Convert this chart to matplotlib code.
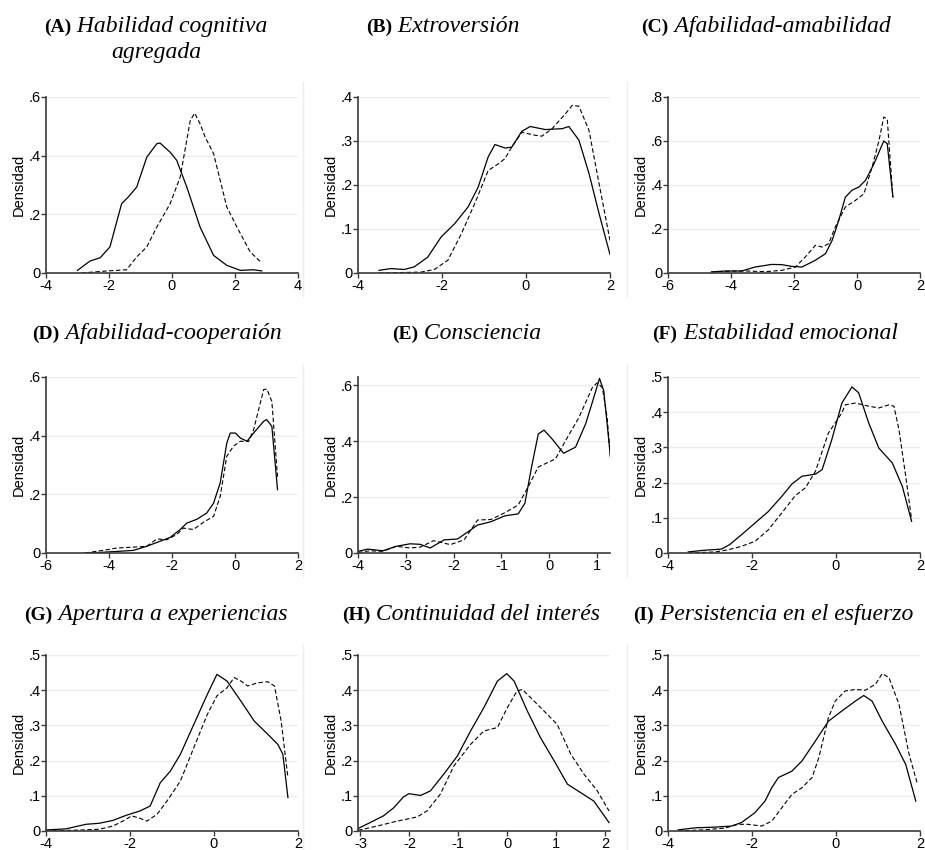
import matplotlib
matplotlib.use("Agg")
import matplotlib.pyplot as plt
import numpy as np

# ---- data (x = score, y = density) ----
# (A) Habilidad cognitiva agregada
a_sol_x = [-3.0, -2.6, -2.28, -1.97, -1.6, -1.38, -1.12, -0.8, -0.48, -0.38, -0.06, 0.15, 0.47, 0.89, 1.32, 1.74, 2.17, 2.59, 2.85]
a_sol_y = [0.009, 0.041, 0.052, 0.089, 0.236, 0.26, 0.293, 0.395, 0.441, 0.443, 0.412, 0.384, 0.293, 0.157, 0.06, 0.026, 0.009, 0.011, 0.007]
a_das_x = [-2.87, -2.07, -1.44, -1.12, -0.8, -0.48, -0.06, 0.26, 0.58, 0.72, 0.89, 1.05, 1.32, 1.74, 2.06, 2.48, 2.85]
a_das_y = [0.0, 0.007, 0.011, 0.055, 0.089, 0.157, 0.236, 0.327, 0.52, 0.545, 0.509, 0.464, 0.407, 0.225, 0.157, 0.072, 0.034]

# (B) Extroversión
b_sol_x = [-3.5, -3.22, -2.9, -2.66, -2.34, -2.02, -1.7, -1.38, -1.14, -0.9, -0.74, -0.5, -0.34, -0.1, 0.1, 0.46, 0.86, 1.02, 1.26, 1.5, 1.74, 2.0]
b_sol_y = [0.006, 0.01, 0.008, 0.014, 0.036, 0.082, 0.112, 0.15, 0.195, 0.264, 0.292, 0.284, 0.286, 0.322, 0.333, 0.326, 0.328, 0.333, 0.302, 0.226, 0.135, 0.042]
b_das_x = [-3.5, -2.5, -2.18, -1.86, -1.54, -1.22, -0.9, -0.66, -0.5, -0.34, -0.1, 0.22, 0.38, 0.62, 0.94, 1.1, 1.26, 1.5, 1.74, 2.0]
b_das_y = [0.0, 0.002, 0.008, 0.029, 0.089, 0.158, 0.233, 0.248, 0.26, 0.286, 0.32, 0.313, 0.311, 0.328, 0.362, 0.381, 0.379, 0.324, 0.203, 0.074]

# (C) Afabilidad-amabilidad
c_sol_x = [-4.62, -4.19, -3.66, -3.24, -2.71, -2.39, -2.07, -1.75, -1.32, -1.0, -0.79, -0.58, -0.37, -0.16, 0.06, 0.27, 0.54, 0.85, 0.96, 1.14]
c_sol_y = [0.005, 0.009, 0.009, 0.027, 0.039, 0.038, 0.03, 0.027, 0.058, 0.088, 0.148, 0.239, 0.345, 0.376, 0.391, 0.421, 0.497, 0.6, 0.588, 0.345]
c_das_x = [-4.62, -3.98, -3.45, -2.92, -2.39, -1.96, -1.64, -1.32, -1.11, -0.9, -0.69, -0.37, -0.05, 0.22, 0.48, 0.7, 0.85, 0.96, 1.14]
c_das_y = [0.004, 0.009, 0.009, 0.006, 0.012, 0.027, 0.073, 0.126, 0.118, 0.133, 0.209, 0.3, 0.33, 0.36, 0.482, 0.603, 0.709, 0.7, 0.345]

# (D) Afabilidad-cooperaión
d_sol_x = [-4.76, -4.28, -3.65, -3.22, -2.8, -2.38, -2.06, -1.74, -1.53, -1.21, -0.9, -0.68, -0.47, -0.26, -0.15, 0.01, 0.17, 0.38, 0.59, 0.91, 1.0, 1.17, 1.35]
d_sol_y = [0.0, 0.002, 0.006, 0.009, 0.023, 0.04, 0.053, 0.08, 0.102, 0.115, 0.136, 0.17, 0.239, 0.375, 0.409, 0.409, 0.392, 0.381, 0.409, 0.449, 0.455, 0.432, 0.216]
d_das_x = [-4.76, -4.07, -3.75, -3.22, -2.8, -2.48, -2.17, -1.85, -1.64, -1.32, -1.0, -0.68, -0.47, -0.26, -0.05, 0.17, 0.43, 0.59, 0.91, 1.01, 1.17, 1.35]
d_das_y = [0.0, 0.011, 0.017, 0.02, 0.023, 0.048, 0.045, 0.063, 0.085, 0.08, 0.105, 0.125, 0.193, 0.33, 0.364, 0.381, 0.38, 0.42, 0.557, 0.559, 0.517, 0.26]

# (E) Consciencia
e_sol_x = [-4.0, -3.8, -3.48, -3.2, -2.91, -2.7, -2.49, -2.2, -1.92, -1.64, -1.5, -1.22, -0.93, -0.65, -0.51, -0.37, -0.23, -0.11, 0.06, 0.3, 0.55, 0.76, 0.93, 1.05, 1.14, 1.28]
e_sol_y = [0.006, 0.014, 0.008, 0.024, 0.033, 0.031, 0.018, 0.047, 0.05, 0.083, 0.1, 0.112, 0.133, 0.14, 0.178, 0.308, 0.426, 0.44, 0.408, 0.357, 0.379, 0.462, 0.556, 0.625, 0.58, 0.343]
e_das_x = [-4.0, -3.76, -3.48, -3.2, -2.91, -2.7, -2.42, -2.07, -1.78, -1.5, -1.22, -0.93, -0.65, -0.44, -0.23, -0.08, 0.13, 0.34, 0.62, 0.9, 1.0, 1.11, 1.21, 1.28]
e_das_y = [0.002, 0.008, 0.006, 0.024, 0.018, 0.021, 0.044, 0.03, 0.047, 0.118, 0.12, 0.144, 0.172, 0.237, 0.308, 0.32, 0.337, 0.402, 0.485, 0.592, 0.609, 0.592, 0.485, 0.343]

# (F) Estabilidad emocional
f_sol_x = [-3.52, -3.12, -2.73, -2.53, -2.25, -1.93, -1.61, -1.29, -1.05, -0.81, -0.49, -0.33, -0.1, 0.14, 0.38, 0.54, 0.78, 1.02, 1.34, 1.58, 1.8]
f_sol_y = [0.003, 0.008, 0.011, 0.024, 0.052, 0.085, 0.118, 0.161, 0.196, 0.218, 0.224, 0.237, 0.322, 0.426, 0.472, 0.455, 0.369, 0.298, 0.256, 0.189, 0.09]
f_das_x = [-3.52, -2.88, -2.57, -2.25, -1.93, -1.61, -1.29, -0.97, -0.73, -0.49, -0.18, 0.14, 0.22, 0.46, 0.78, 1.02, 1.26, 1.38, 1.5, 1.66, 1.8]
f_das_y = [0.0, 0.003, 0.009, 0.019, 0.033, 0.066, 0.114, 0.163, 0.185, 0.232, 0.341, 0.398, 0.421, 0.426, 0.417, 0.412, 0.421, 0.417, 0.35, 0.218, 0.095]

# (G) Apertura a experiencias
g_sol_x = [-4.0, -3.53, -3.05, -2.73, -2.41, -2.08, -1.76, -1.52, -1.28, -1.04, -0.8, -0.48, -0.16, 0.07, 0.31, 0.64, 0.96, 1.28, 1.52, 1.64, 1.76]
g_sol_y = [0.003, 0.006, 0.019, 0.022, 0.03, 0.045, 0.057, 0.071, 0.137, 0.17, 0.218, 0.303, 0.388, 0.445, 0.426, 0.369, 0.312, 0.275, 0.246, 0.218, 0.095]
g_das_x = [-4.0, -3.13, -2.73, -2.41, -2.17, -1.96, -1.76, -1.6, -1.36, -1.12, -0.8, -0.48, -0.16, 0.07, 0.31, 0.48, 0.64, 0.8, 1.04, 1.28, 1.44, 1.6, 1.76]
g_das_y = [0.0, 0.003, 0.005, 0.014, 0.028, 0.043, 0.036, 0.028, 0.047, 0.085, 0.142, 0.237, 0.331, 0.384, 0.407, 0.436, 0.426, 0.412, 0.421, 0.424, 0.412, 0.312, 0.152]

# (H) Continuidad del interés
h_sol_x = [-3.05, -2.8, -2.53, -2.32, -2.12, -2.01, -1.77, -1.57, -1.3, -1.02, -0.75, -0.48, -0.2, -0.01, 0.14, 0.41, 0.68, 0.96, 1.23, 1.5, 1.77, 2.08]
h_sol_y = [0.007, 0.024, 0.043, 0.066, 0.097, 0.106, 0.101, 0.114, 0.161, 0.213, 0.284, 0.35, 0.426, 0.447, 0.426, 0.341, 0.265, 0.199, 0.133, 0.109, 0.085, 0.024]
h_das_x = [-3.05, -2.66, -2.25, -1.84, -1.64, -1.37, -1.09, -0.75, -0.48, -0.2, 0.0, 0.2, 0.31, 0.55, 0.75, 1.02, 1.3, 1.57, 1.84, 2.08]
h_das_y = [0.002, 0.014, 0.028, 0.04, 0.057, 0.104, 0.185, 0.246, 0.284, 0.294, 0.35, 0.398, 0.402, 0.369, 0.341, 0.303, 0.218, 0.161, 0.114, 0.057]

# (I) Persistencia en el esfuerzo
i_sol_x = [-3.76, -3.36, -2.88, -2.49, -2.25, -1.93, -1.69, -1.53, -1.37, -1.05, -0.81, -0.49, -0.18, 0.14, 0.46, 0.66, 0.86, 1.1, 1.42, 1.66, 1.9]
i_sol_y = [0.003, 0.009, 0.011, 0.014, 0.024, 0.052, 0.085, 0.123, 0.152, 0.17, 0.199, 0.256, 0.312, 0.341, 0.369, 0.385, 0.369, 0.312, 0.246, 0.189, 0.085]
i_das_x = [-3.76, -3.2, -2.65, -2.33, -2.09, -1.77, -1.53, -1.29, -1.05, -0.81, -0.57, -0.41, -0.18, -0.02, 0.22, 0.46, 0.7, 0.94, 1.1, 1.26, 1.5, 1.74, 1.94]
i_das_y = [0.0, 0.003, 0.008, 0.019, 0.019, 0.014, 0.028, 0.066, 0.104, 0.123, 0.152, 0.208, 0.322, 0.369, 0.398, 0.402, 0.4, 0.417, 0.447, 0.436, 0.36, 0.218, 0.133]

letters = ["A", "B", "C", "D", "E", "F", "G", "H", "I"]
names = ["Habilidad cognitiva\nagregada", "Extroversión", "Afabilidad-amabilidad",
         "Afabilidad-cooperaión", "Consciencia", "Estabilidad emocional",
         "Apertura a experiencias", "Continuidad del interés", "Persistencia en el esfuerzo"]
xlims = [(-4, 4), (-4, 2), (-6, 2), (-6, 2), (-4, 1.27), (-4, 2), (-4, 2), (-3.05, 2.1), (-4, 2)]
xticks = [[-4, -2, 0, 2, 4], [-4, -2, 0, 2], [-6, -4, -2, 0, 2], [-6, -4, -2, 0, 2],
          [-4, -3, -2, -1, 0, 1], [-4, -2, 0, 2], [-4, -2, 0, 2], [-3, -2, -1, 0, 1, 2], [-4, -2, 0, 2]]
ytops = [0.6, 0.4, 0.8, 0.6, 0.63, 0.5, 0.5, 0.5, 0.5]
yticks = [[0, .2, .4, .6], [0, .1, .2, .3, .4], [0, .2, .4, .6, .8], [0, .2, .4, .6],
          [0, .2, .4, .6], [0, .1, .2, .3, .4, .5], [0, .1, .2, .3, .4, .5],
          [0, .1, .2, .3, .4, .5], [0, .1, .2, .3, .4, .5]]
solid = [(a_sol_x, a_sol_y), (b_sol_x, b_sol_y), (c_sol_x, c_sol_y), (d_sol_x, d_sol_y),
         (e_sol_x, e_sol_y), (f_sol_x, f_sol_y), (g_sol_x, g_sol_y), (h_sol_x, h_sol_y), (i_sol_x, i_sol_y)]
dashed = [(a_das_x, a_das_y), (b_das_x, b_das_y), (c_das_x, c_das_y), (d_das_x, d_das_y),
          (e_das_x, e_das_y), (f_das_x, f_das_y), (g_das_x, g_das_y), (h_das_x, h_das_y), (i_das_x, i_das_y)]

# ---- layout (pixels on a 925x850 canvas) ----
W, H = 925, 850
col_left = [46, 358, 668]
ax_w = 252
row_bottom = [273, 553, 831]
ax_h = 176
title_cx = [156, 443, 766, 157, 467, 775, 156, 471, 773]
title_base = [32, 32, 32, 339, 339, 339, 620, 620, 620]
edge_x = [303, None, 627]          # faint frame edges of the embedded graphs
edge_span = [(82, 297), (365, 577), (645, 850)]

plt.rcParams['font.family'] = ['Liberation Sans', 'DejaVu Sans']
fig = plt.figure(figsize=(W / 100, H / 100), dpi=100)

def fmt(v):
    if v == 0:
        return "0"
    s = f"{v:g}"
    return s.replace("0.", ".")

grid_col = "#e6eef0"
axis_col = "#3a3a3a"
edge_col = "#ededed"

for k in range(9):
    r, c = divmod(k, 3)
    ax = fig.add_axes([col_left[c] / W, (H - row_bottom[r]) / H, ax_w / W, ax_h / H])
    sx, sy = solid[k]
    dx, dy = dashed[k]
    ax.plot(sx, sy, color="black", lw=0.9, solid_joinstyle="round")
    ax.plot(dx, dy, color="black", lw=0.8, dashes=(4, 2.2))
    ax.set_xlim(*xlims[k])
    ax.set_ylim(0, ytops[k])
    ax.set_xticks(xticks[k])
    ax.set_xticklabels([fmt(v) for v in xticks[k]])
    ax.set_yticks(yticks[k])
    ax.set_yticklabels([fmt(v) for v in yticks[k]])
    for v in yticks[k][1:]:
        ax.axhline(v, color=grid_col, lw=1.0, zorder=0)
    for s in ["top", "right"]:
        ax.spines[s].set_visible(False)
    for s in ["left", "bottom"]:
        ax.spines[s].set_color(axis_col)
        ax.spines[s].set_linewidth(1.2)
    ax.tick_params(direction="out", length=3.5, width=1.0, color=axis_col,
                   labelsize=10.5, colors="black")
    ax.tick_params(axis="x", pad=0.5)
    ax.tick_params(axis="y", pad=0.5)
    ax.set_ylabel("Densidad", fontsize=10.5, labelpad=2)

    if edge_x[c] is not None:
        xe = edge_x[c] / W
        y_top, y_bot = edge_span[r]
        fig.add_artist(plt.Line2D([xe, xe], [1 - y_bot / H, 1 - y_top / H],
                                  color=edge_col, lw=1.0))

    # title: bold small-caps letter + italic name
    lines = names[k].split("\n")
    y0 = 1 - title_base[k] / H
    t1 = fig.text(0, y0, f"({letters[k]})", fontsize=14, fontweight="bold",
                  family="Liberation Serif", va="baseline", ha="left")
    t2 = fig.text(0, y0, " " + lines[0], fontsize=17, style="italic",
                  family="Liberation Serif", va="baseline", ha="left")
    fig.canvas.draw()
    rend = fig.canvas.get_renderer()
    w1 = t1.get_window_extent(rend).width
    w2 = t2.get_window_extent(rend).width
    x0 = title_cx[k] - (w1 + w2) / 2
    t1.set_x(x0 / W)
    t2.set_x((x0 + w1) / W)
    if len(lines) > 1:
        fig.text(title_cx[k] / W, 1 - (title_base[k] + 26) / H, lines[1], fontsize=17,
                 style="italic", family="Liberation Serif", va="baseline", ha="center")

fig.savefig("out.png", dpi=100, facecolor="white")
